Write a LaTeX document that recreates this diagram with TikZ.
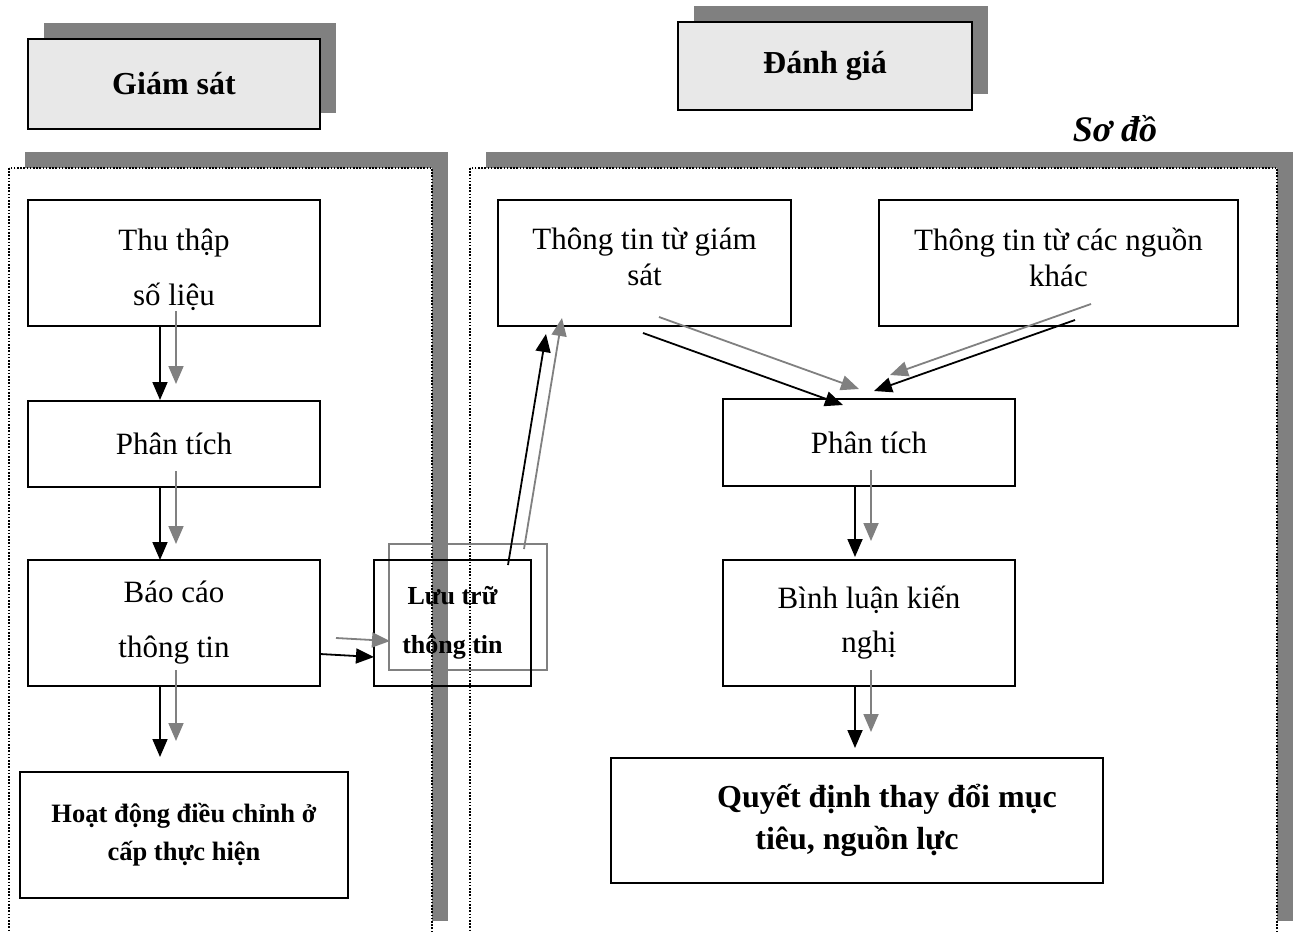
\documentclass[tikz,border=0pt]{standalone}
\usepackage{fontspec}
\setmainfont{Liberation Serif}
\usetikzlibrary{arrows.meta,calc,shadows}

\definecolor{shadowgray}{HTML}{808080}
\definecolor{headfill}{HTML}{E8E8E8}

% black flow arrow together with its grey offset copy
\newcommand\flowpair[2]{%
  \draw[flowshade] #1 -- #2;
  \draw[flow] #1 -- #2;}

\begin{document}
\begin{tikzpicture}[x=1pt,y=-1pt,
  every node/.style={inner sep=0pt, outer sep=0pt},
  stepbox/.style={draw=black, line width=1.6pt, fill=white, align=center},
  headbox/.style={draw=black, line width=2.5pt, fill=headfill,
    font=\fontsize{32}{36}\selectfont\bfseries,
    general shadow={fill=shadowgray, shadow xshift=16pt, shadow yshift=16pt}},
  panelshade/.style={fill=shadowgray, draw=none},
  panel/.style={draw=black, line width=1.4pt, dash pattern=on 1.6pt off 1.6pt, fill=white},
  flow/.style={draw=black, line width=1.8pt, -{Triangle[length=18pt,width=15pt]}},
  flowshade/.style={draw=shadowgray, line width=1.8pt, -{Triangle[length=18pt,width=15pt]},
    transform canvas={shift={(16pt,16pt)}}},
  body/.style={font=\fontsize{31}{36}\selectfont},
]
\useasboundingbox (0,0) rectangle (1299,932);
\clip (0,0) rectangle (1299,932);

% headers
\node[headbox, minimum width=292pt, minimum height=90pt] (gs) at (174,84) {Giám sát};
\node[headbox, minimum width=294pt, minimum height=88pt] (dg) at (825,66) {Đánh giá};
\node[font=\fontsize{36}{40}\selectfont\bfseries\itshape] (sodo) at (1115,129) {Sơ đồ};

% panels with their shadows
\fill[panelshade] (25,152) rectangle (448,921);
\draw[panel] (9,168) rectangle (432,937);
\fill[panelshade] (486,152) rectangle (1293,921);
\draw[panel] (470,168) rectangle (1277,937);

% monitoring column
\node[stepbox, minimum width=292pt, minimum height=126pt, font=\fontsize{31}{55}\selectfont]
  (thu) at (174,263) {\rule{0pt}{36pt}Thu thập\\số liệu};
\node[stepbox, minimum width=292pt, minimum height=86pt, body]
  (phan) at (174,444) {Phân tích};
\node[stepbox, minimum width=292pt, minimum height=126pt, font=\fontsize{31}{55}\selectfont]
  (bao) at (174,623) {Báo cáo\\thông tin};
\node[stepbox, minimum width=328pt, minimum height=126pt, font=\fontsize{26.5}{38}\selectfont\bfseries]
  (hoat) at (184,835) {Hoạt động điều chỉnh ở\\cấp thực hiện};

% storage box with its grey outline copy
\draw[shadowgray, line width=1.6pt] (389,544) rectangle (547,670);
\node[draw=black, line width=1.6pt, align=center, minimum width=157pt, minimum height=126pt,
  font=\fontsize{26}{49}\selectfont\bfseries] (luu) at (452.5,623) {Lưu trữ\\thông tin};

% evaluation column
\node[stepbox, minimum width=293pt, minimum height=126pt, body]
  (tgs) at (644.5,263) {Thông tin từ giám\\sát\rule[-12pt]{0pt}{1pt}};
\node[stepbox, minimum width=359pt, minimum height=126pt, body]
  (tnk) at (1058.5,263) {Thông tin từ các nguồn\\khác\rule[-12pt]{0pt}{1pt}};
\node[stepbox, minimum width=292pt, minimum height=87pt, body]
  (phan2) at (869,442.5) {Phân tích};
\node[stepbox, minimum width=292pt, minimum height=126pt, font=\fontsize{31}{44}\selectfont]
  (binh) at (869,623) {Bình luận kiến\\nghị};
\node[stepbox, line width=2.2pt, minimum width=492pt, minimum height=125pt,
  font=\fontsize{32}{42}\selectfont\bfseries]
  (qd) at (857,820.5) {\hspace*{60pt}Quyết định thay đổi mục\\tiêu, nguồn lực};

% flows
\flowpair{($(thu.south)+(-14,1)$)}{($(phan.north)+(-14,-1)$)}
\flowpair{($(phan.south)+(-14,0)$)}{($(bao.north)+(-14,0)$)}
\flowpair{($(bao.south)+(-14,0)$)}{($(hoat.north)+(-24,-15)$)}
\flowpair{($(bao.east)+(0,31)$)}{($(luu.west)+(0,34)$)}
\flowpair{($(luu.north)+(55.5,5)$)}{($(tgs.south)+(-98.5,8)$)}
\flowpair{($(tgs.south)+(-1.5,7)$)}{($(phan2.north)+(-26,6)$)}
\flowpair{($(tnk.south)+(16.5,-6)$)}{($(phan2.north)+(5,-8)$)}
\flowpair{($(phan2.south)+(-14,0)$)}{($(binh.north)+(-14,-3)$)}
\flowpair{($(binh.south)+(-14,0)$)}{($(qd.north)+(-2,-10)$)}
\end{tikzpicture}
\end{document}
